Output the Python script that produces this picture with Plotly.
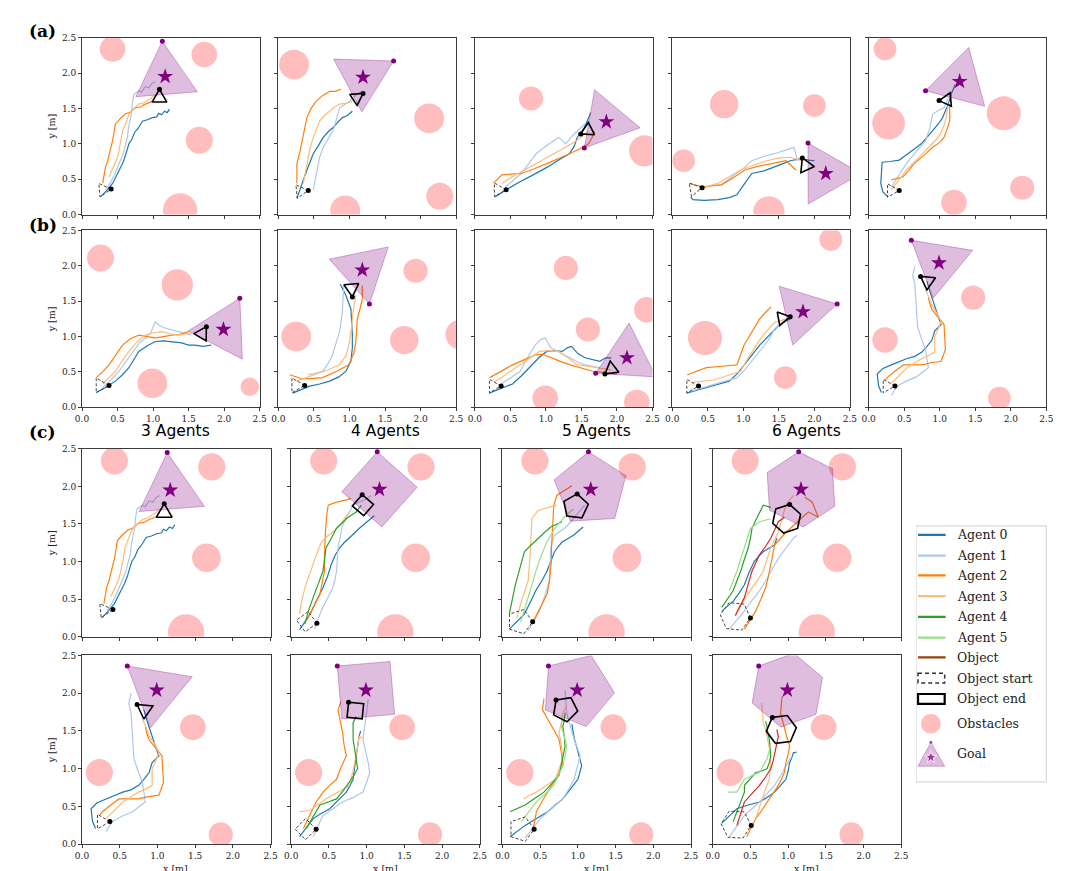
import math

import plotly.graph_objects as go

FIG_W, FIG_H = 1080, 871

AGENT_COLORS = ["#1f77b4", "#aec7e8", "#ff7f0e", "#ffbb78", "#2ca02c", "#98df8a", "#d62728"]
TICKS = [0.0, 0.5, 1.0, 1.5, 2.0, 2.5]
COLUMN_TITLES = ["3 Agents", "4 Agents", "5 Agents", "6 Agents"]
ROW_LABELS = ["(a)", "(b)", "(c)"]
LEGEND_LABELS = ["Agent 0", "Agent 1", "Agent 2", "Agent 3", "Agent 4", "Agent 5",
                 "Object", "Object start", "Object end", "Obstacles", "Goal"]

# obstacles: (x, y, r); goal / start / end: (centre x, centre y, marked vertex x, marked vertex y)

# ---- row (a) ----
a1_obstacles = [(0.43, 2.34, 0.18), (1.72, 2.26, 0.18), (1.65, 1.05, 0.19), (1.38, 0.06, 0.24)]
a1_goal = (1.17, 1.95, 1.13, 2.45)
a1_start = (0.30, 0.35, 0.41, 0.36)
a1_end = (1.09, 1.65, 1.09, 1.77)
a1_paths = [
    [(0.26, 0.25), (0.34, 0.33), (0.43, 0.44), (0.47, 0.52), (0.50, 0.58), (0.55, 0.66), (0.57, 0.72),
     (0.60, 0.80), (0.62, 0.88), (0.66, 1.00), (0.70, 1.06), (0.74, 1.16), (0.79, 1.22), (0.85, 1.32),
     (0.92, 1.34), (0.99, 1.37), (1.05, 1.38), (1.08, 1.43), (1.12, 1.41), (1.16, 1.46), (1.20, 1.44),
     (1.23, 1.49)],
    [(0.33, 0.35), (0.40, 0.45), (0.45, 0.55), (0.50, 0.66), (0.54, 0.77), (0.58, 0.86), (0.60, 0.95),
     (0.64, 1.09), (0.65, 1.20), (0.67, 1.30), (0.69, 1.38), (0.70, 1.46), (0.71, 1.58), (0.73, 1.70),
     (0.80, 1.75), (0.84, 1.73), (0.89, 1.81), (0.94, 1.79), (0.98, 1.85), (1.03, 1.88)],
    [(0.29, 0.44), (0.31, 0.55), (0.33, 0.67), (0.36, 0.75), (0.38, 0.85), (0.40, 0.92), (0.43, 1.04),
     (0.45, 1.15), (0.47, 1.28), (0.54, 1.36), (0.61, 1.42), (0.68, 1.45), (0.75, 1.51), (0.82, 1.52),
     (0.89, 1.56), (0.99, 1.60)],
    [(0.38, 0.53), (0.44, 0.66), (0.47, 0.72), (0.50, 0.81), (0.52, 0.90), (0.54, 1.00), (0.57, 1.18),
     (0.62, 1.30), (0.66, 1.42), (0.73, 1.50), (0.80, 1.56), (0.87, 1.58), (0.94, 1.63), (1.05, 1.70)],
]

a2_obstacles = [(0.22, 2.12, 0.21), (2.12, 1.36, 0.21), (2.27, 0.26, 0.19), (0.94, 0.06, 0.21)]
a2_goal = (1.19, 1.94, 1.62, 2.17)
a2_start = (0.31, 0.33, 0.42, 0.34)
a2_end = (1.10, 1.65, 1.19, 1.71)
a2_paths = [
    [(0.26, 0.23), (0.30, 0.36), (0.35, 0.49), (0.42, 0.68), (0.49, 0.86), (0.56, 0.97), (0.63, 1.09),
     (0.70, 1.17), (0.77, 1.23), (0.84, 1.31), (0.90, 1.37), (0.97, 1.40), (1.04, 1.46)],
    [(0.49, 0.35), (0.54, 0.58), (0.58, 0.81), (0.63, 0.95), (0.70, 1.08), (0.77, 1.19), (0.82, 1.36),
     (0.86, 1.51), (0.93, 1.55), (1.00, 1.60), (1.08, 1.68), (1.16, 1.74)],
    [(0.26, 0.44), (0.26, 0.58), (0.26, 0.72), (0.30, 0.88), (0.33, 1.04), (0.37, 1.20), (0.40, 1.37),
     (0.46, 1.50), (0.53, 1.60), (0.62, 1.68), (0.72, 1.74), (0.80, 1.74), (0.88, 1.77)],
    [(0.35, 0.44), (0.38, 0.60), (0.40, 0.76), (0.44, 0.92), (0.49, 1.09), (0.53, 1.20), (0.58, 1.32),
     (0.65, 1.40), (0.72, 1.46), (0.79, 1.52), (0.86, 1.56), (0.95, 1.57), (1.04, 1.60)],
]

a3_obstacles = [(0.79, 1.64, 0.17), (2.39, 0.90, 0.22)]
a3_goal = (1.85, 1.31, 1.54, 0.94)
a3_start = (0.33, 0.35, 0.44, 0.35)
a3_end = (1.59, 1.19, 1.49, 1.14)
a3_paths = [
    [(0.28, 0.25), (0.43, 0.34), (0.59, 0.44), (0.80, 0.55), (1.02, 0.67), (1.18, 0.77), (1.33, 0.86),
     (1.40, 0.97), (1.44, 1.09), (1.50, 1.17), (1.54, 1.23), (1.58, 1.32), (1.63, 1.44)],
    [(0.43, 0.39), (0.55, 0.50), (0.65, 0.58), (0.76, 0.72), (0.86, 0.86), (1.00, 0.97), (1.18, 1.09),
     (1.28, 1.00), (1.36, 1.10), (1.44, 1.18), (1.55, 1.28)],
    [(0.26, 0.44), (0.38, 0.56), (0.50, 0.57), (0.65, 0.58), (0.82, 0.64), (1.02, 0.72), (1.18, 0.79),
     (1.33, 0.86), (1.52, 0.95), (1.60, 1.00), (1.65, 1.09), (1.68, 1.18)],
    [(0.38, 0.44), (0.52, 0.53), (0.70, 0.63), (0.86, 0.72), (1.02, 0.81), (1.15, 0.88), (1.28, 0.95),
     (1.40, 1.02), (1.49, 1.09), (1.60, 1.18)],
]

a4_obstacles = [(0.73, 1.56, 0.20), (2.00, 1.54, 0.16), (0.16, 0.76, 0.16), (1.36, 0.04, 0.22)]
a4_goal = (2.16, 0.58, 1.91, 1.01)
a4_start = (0.31, 0.36, 0.42, 0.38)
a4_end = (1.88, 0.69, 1.83, 0.80)
a4_paths = [
    [(0.26, 0.25), (0.29, 0.21), (0.45, 0.20), (0.64, 0.21), (0.80, 0.24), (0.91, 0.28), (1.02, 0.44),
     (1.12, 0.58), (1.30, 0.62), (1.44, 0.67), (1.56, 0.72), (1.66, 0.76), (1.82, 0.79), (1.92, 0.77),
     (2.00, 0.76)],
    [(0.37, 0.35), (0.52, 0.40), (0.69, 0.42), (0.80, 0.50), (0.91, 0.58), (1.02, 0.67), (1.12, 0.76),
     (1.28, 0.82), (1.44, 0.86), (1.60, 0.92), (1.71, 0.95), (1.74, 0.85), (1.76, 0.76)],
    [(0.24, 0.44), (0.43, 0.39), (0.56, 0.41), (0.69, 0.42), (0.86, 0.52), (1.02, 0.63), (1.20, 0.68),
     (1.39, 0.72), (1.60, 0.76), (1.74, 0.63)],
    [(0.37, 0.35), (0.50, 0.40), (0.64, 0.44), (0.80, 0.54), (0.96, 0.63), (1.15, 0.70), (1.33, 0.76),
     (1.50, 0.80), (1.66, 0.81), (1.82, 0.76)],
]

a5_obstacles = [(0.23, 2.34, 0.16), (0.28, 1.29, 0.23), (1.90, 1.43, 0.24), (1.20, 0.17, 0.18),
                (2.16, 0.38, 0.17)]
a5_goal = (1.28, 1.88, 0.80, 1.75)
a5_start = (0.32, 0.34, 0.43, 0.34)
a5_end = (1.10, 1.62, 0.99, 1.61)
a5_paths = [
    [(0.27, 0.25), (0.20, 0.32), (0.17, 0.44), (0.18, 0.60), (0.19, 0.74), (0.30, 0.75), (0.43, 0.77),
     (0.58, 0.88), (0.74, 1.00), (0.82, 1.09), (0.90, 1.18), (0.98, 1.28), (1.04, 1.37), (1.08, 1.46),
     (1.12, 1.56), (1.16, 1.70), (1.22, 1.84)],
    [(0.32, 0.39), (0.42, 0.55), (0.53, 0.72), (0.66, 0.88), (0.80, 1.04), (0.86, 1.22), (0.90, 1.42),
     (0.98, 1.47), (1.06, 1.51), (1.12, 1.65)],
    [(0.32, 0.49), (0.48, 0.53), (0.56, 0.62), (0.64, 0.72), (0.78, 0.84), (0.90, 0.95), (1.00, 1.02),
     (1.06, 1.09), (1.10, 1.20), (1.14, 1.32), (1.14, 1.45), (1.14, 1.56)],
    [(0.32, 0.35), (0.42, 0.49), (0.53, 0.63), (0.70, 0.80), (0.85, 0.95), (0.94, 1.05), (1.01, 1.14),
     (1.06, 1.26), (1.09, 1.37), (1.12, 1.56)],
]

# ---- row (b) ----
b1_obstacles = [(0.26, 2.11, 0.19), (1.34, 1.73, 0.22), (0.99, 0.34, 0.21), (2.36, 0.29, 0.13)]
b1_goal = (1.99, 1.10, 2.22, 1.54)
b1_start = (0.26, 0.31, 0.38, 0.31)
b1_end = (1.69, 1.04, 1.75, 1.14)
b1_paths = [
    [(0.20, 0.21), (0.33, 0.28), (0.47, 0.37), (0.57, 0.46), (0.66, 0.56), (0.73, 0.68), (0.80, 0.79),
     (0.92, 0.87), (1.03, 0.93), (1.15, 0.94), (1.26, 0.93), (1.40, 0.91), (1.50, 0.88), (1.59, 0.88),
     (1.70, 0.86), (1.82, 0.88)],
    [(0.29, 0.28), (0.40, 0.38), (0.52, 0.51), (0.62, 0.65), (0.71, 0.79), (0.80, 0.90), (0.89, 0.98),
     (0.97, 1.06), (1.03, 1.21), (1.10, 1.15), (1.17, 1.12), (1.36, 1.07), (1.54, 1.02)],
    [(0.20, 0.42), (0.29, 0.50), (0.38, 0.60), (0.47, 0.74), (0.57, 0.88), (0.68, 0.97), (0.80, 1.02),
     (0.92, 1.00), (1.03, 0.98), (1.15, 1.00), (1.26, 1.02), (1.38, 1.03), (1.50, 1.07)],
    [(0.29, 0.33), (0.38, 0.42), (0.47, 0.51), (0.56, 0.65), (0.66, 0.79), (0.77, 0.92), (0.89, 1.02),
     (1.00, 1.05), (1.12, 1.07), (1.24, 1.04), (1.36, 1.02), (1.54, 1.05)],
]

b2_obstacles = [(0.25, 1.00, 0.21), (1.77, 0.95, 0.20), (1.93, 1.93, 0.17), (2.56, 1.03, 0.21)]
b2_goal = (1.18, 1.94, 1.28, 1.46)
b2_start = (0.25, 0.31, 0.37, 0.31)
b2_end = (1.03, 1.68, 1.04, 1.56)
b2_paths = [
    [(0.20, 0.20), (0.32, 0.25), (0.44, 0.30), (0.58, 0.33), (0.72, 0.37), (0.85, 0.43), (0.95, 0.51),
     (1.02, 0.65), (1.04, 0.84), (1.04, 1.02), (1.03, 1.20), (1.02, 1.39), (0.95, 1.58), (0.87, 1.74)],
    [(0.41, 0.46), (0.52, 0.48), (0.62, 0.51), (0.70, 0.62), (0.76, 0.74), (0.81, 0.90), (0.86, 1.07),
     (0.88, 1.20), (0.90, 1.35), (0.91, 1.55), (0.92, 1.72)],
    [(0.16, 0.46), (0.25, 0.43), (0.34, 0.40), (0.48, 0.41), (0.62, 0.42), (0.80, 0.50), (0.99, 0.60),
     (1.06, 0.76), (1.09, 0.93), (1.10, 1.10), (1.11, 1.25), (1.15, 1.40), (1.18, 1.53), (1.18, 1.72)],
    [(0.25, 0.37), (0.39, 0.42), (0.53, 0.46), (0.70, 0.53), (0.86, 0.60), (0.95, 0.73), (0.99, 0.88),
     (1.02, 1.06), (1.04, 1.25), (1.06, 1.42), (1.09, 1.58)],
]

b3_obstacles = [(1.28, 1.97, 0.17), (1.59, 1.10, 0.17), (2.42, 1.38, 0.18), (0.99, 0.13, 0.18),
                (2.28, 0.07, 0.18)]
b3_goal = (2.14, 0.70, 1.70, 0.48)
b3_start = (0.26, 0.30, 0.37, 0.30)
b3_end = (1.92, 0.54, 1.83, 0.47)
b3_paths = [
    [(0.20, 0.20), (0.36, 0.26), (0.53, 0.33), (0.66, 0.45), (0.80, 0.60), (0.90, 0.70), (1.01, 0.79),
     (1.12, 0.80), (1.23, 0.79), (1.30, 0.84), (1.36, 0.86), (1.45, 0.76), (1.55, 0.70), (1.66, 0.67),
     (1.76, 0.65), (1.84, 0.70), (1.92, 0.70)],
    [(0.37, 0.33), (0.50, 0.42), (0.64, 0.51), (0.74, 0.70), (0.85, 0.88), (0.93, 0.96), (0.99, 0.98),
     (1.07, 0.84), (1.20, 0.77), (1.34, 0.70), (1.45, 0.64), (1.55, 0.60), (1.66, 0.58), (1.76, 0.56)],
    [(0.21, 0.42), (0.37, 0.51), (0.53, 0.60), (0.69, 0.67), (0.85, 0.74), (0.96, 0.75), (1.07, 0.70),
     (1.20, 0.65), (1.34, 0.60), (1.50, 0.55), (1.66, 0.51), (1.83, 0.49), (2.00, 0.47)],
    [(0.27, 0.35), (0.43, 0.46), (0.59, 0.56), (0.75, 0.68), (0.91, 0.79), (1.05, 0.80), (1.18, 0.79),
     (1.31, 0.70), (1.44, 0.60), (1.58, 0.58), (1.71, 0.56), (1.92, 0.53)],
]

b4_obstacles = [(2.23, 2.37, 0.16), (0.46, 0.98, 0.24), (1.59, 0.42, 0.16)]
b4_goal = (1.84, 1.35, 2.32, 1.46)
b4_start = (0.26, 0.30, 0.37, 0.30)
b4_end = (1.55, 1.26, 1.66, 1.28)
b4_paths = [
    [(0.20, 0.20), (0.34, 0.24), (0.48, 0.28), (0.64, 0.32), (0.80, 0.37), (0.92, 0.48), (1.01, 0.60),
     (1.12, 0.74), (1.23, 0.88), (1.31, 0.96), (1.39, 1.04), (1.50, 1.16), (1.58, 1.21), (1.66, 1.25)],
    [(0.27, 0.23), (0.43, 0.28), (0.59, 0.33), (0.75, 0.38), (0.91, 0.42), (1.02, 0.53), (1.12, 0.65),
     (1.23, 0.79), (1.34, 0.93), (1.40, 1.03), (1.44, 1.11), (1.60, 1.25)],
    [(0.21, 0.46), (0.34, 0.51), (0.48, 0.56), (0.70, 0.58), (0.91, 0.60), (0.96, 0.74), (1.01, 0.88),
     (1.07, 0.98), (1.12, 1.07), (1.18, 1.16), (1.23, 1.25), (1.31, 1.34), (1.39, 1.42)],
    [(0.27, 0.35), (0.43, 0.37), (0.59, 0.39), (0.78, 0.45), (0.96, 0.51), (1.04, 0.65), (1.12, 0.79),
     (1.20, 0.91), (1.28, 1.02), (1.36, 1.11), (1.44, 1.20), (1.60, 1.25)],
]

b5_obstacles = [(0.23, 0.95, 0.18), (1.47, 1.55, 0.17), (1.84, 0.13, 0.16)]
b5_goal = (0.99, 2.04, 0.60, 2.36)
b5_start = (0.26, 0.30, 0.37, 0.30)
b5_end = (0.83, 1.78, 0.73, 1.85)
b5_paths = [
    [(0.18, 0.21), (0.14, 0.30), (0.12, 0.47), (0.20, 0.55), (0.32, 0.60), (0.43, 0.65), (0.54, 0.69),
     (0.65, 0.72), (0.75, 0.78), (0.82, 0.86), (0.89, 0.95), (0.93, 1.08), (1.02, 1.17), (0.98, 1.28),
     (0.95, 1.38), (0.92, 1.47), (0.89, 1.55), (0.86, 1.64), (0.84, 1.72), (0.82, 1.78)],
    [(0.32, 0.17), (0.36, 0.23), (0.40, 0.30), (0.53, 0.37), (0.67, 0.43), (0.76, 0.50), (0.84, 0.56),
     (0.82, 0.69), (0.80, 0.82), (0.75, 0.95), (0.72, 1.04), (0.69, 1.13), (0.68, 1.26), (0.67, 1.39),
     (0.66, 1.56), (0.65, 1.74), (0.62, 1.86), (0.65, 2.00)],
    [(0.23, 0.38), (0.27, 0.43), (0.38, 0.52), (0.49, 0.60), (0.62, 0.60), (0.75, 0.60), (0.88, 0.63),
     (1.02, 0.65), (1.08, 0.82), (1.07, 1.00), (1.06, 1.17), (0.98, 1.27), (0.89, 1.38), (0.86, 1.47),
     (0.84, 1.55)],
    [(0.32, 0.34), (0.43, 0.45), (0.54, 0.56), (0.65, 0.63), (0.75, 0.69), (0.84, 0.73), (0.93, 0.78),
     (0.93, 0.89), (0.93, 1.00), (0.98, 1.11), (1.02, 1.22), (0.96, 1.33), (0.89, 1.44), (0.85, 1.55),
     (0.80, 1.66)],
]

# ---- row (c), top: scenario of a1 with 4, 5, 6 agents ----
c_top_goal = (1.17, 1.96, 1.14, 2.46)

c4_top_start = (0.205, 0.20, 0.34, 0.18)
c4_top_end = (0.95, 1.75, 0.94, 1.89)
c4_top_paths = [
    [(0.11, 0.09), (0.18, 0.20), (0.25, 0.30), (0.33, 0.47), (0.42, 0.65), (0.48, 0.80), (0.53, 0.96),
     (0.58, 1.08), (0.64, 1.18), (0.70, 1.25), (0.77, 1.31), (0.84, 1.38), (0.90, 1.44), (0.97, 1.50),
     (1.04, 1.57), (1.10, 1.61)],
    [(0.31, 0.10), (0.36, 0.25), (0.42, 0.39), (0.49, 0.52), (0.55, 0.65), (0.58, 0.76), (0.60, 0.87),
     (0.61, 1.02), (0.62, 1.18), (0.65, 1.33), (0.68, 1.48), (0.75, 1.62), (0.82, 1.75), (0.90, 1.79),
     (0.99, 1.83), (1.06, 1.88)],
    [(0.20, 0.21), (0.29, 0.38), (0.38, 0.56), (0.41, 0.72), (0.44, 0.87), (0.44, 1.05), (0.44, 1.22),
     (0.45, 1.35), (0.46, 1.48), (0.47, 1.62), (0.49, 1.75), (0.60, 1.79), (0.73, 1.82), (0.79, 1.84)],
    [(0.11, 0.30), (0.14, 0.48), (0.18, 0.65), (0.23, 0.80), (0.29, 0.96), (0.34, 1.11), (0.40, 1.26),
     (0.47, 1.33), (0.55, 1.39), (0.62, 1.46), (0.68, 1.53), (0.77, 1.66)],
    [(0.18, 0.17), (0.23, 0.35), (0.29, 0.52), (0.36, 0.70), (0.42, 0.87), (0.44, 1.02), (0.46, 1.18),
     (0.53, 1.31), (0.60, 1.44), (0.66, 1.50), (0.73, 1.57), (0.80, 1.62), (0.86, 1.66), (0.93, 1.75)],
]

c5_top_start = (0.23, 0.20, 0.40, 0.20)
c5_top_end = (0.97, 1.73, 0.99, 1.90)
c5_top_paths = [
    [(0.09, 0.10), (0.19, 0.20), (0.29, 0.30), (0.37, 0.46), (0.44, 0.61), (0.52, 0.74), (0.59, 0.87),
     (0.64, 1.00), (0.69, 1.13), (0.74, 1.20), (0.79, 1.26), (0.86, 1.30), (0.94, 1.35), (1.00, 1.40),
     (1.07, 1.46)],
    [(0.34, 0.08), (0.41, 0.21), (0.49, 0.34), (0.56, 0.54), (0.62, 0.74), (0.63, 0.96), (0.64, 1.18),
     (0.66, 1.27), (0.69, 1.35), (0.76, 1.40), (0.82, 1.44), (0.88, 1.50), (0.94, 1.57), (1.01, 1.66),
     (1.09, 1.75)],
    [(0.39, 0.17), (0.49, 0.37), (0.59, 0.56), (0.62, 0.72), (0.64, 0.87), (0.65, 1.02), (0.65, 1.18),
     (0.66, 1.33), (0.67, 1.48), (0.68, 1.62), (0.68, 1.75), (0.72, 1.88), (0.84, 1.96), (0.92, 2.01)],
    [(0.19, 0.25), (0.26, 0.50), (0.34, 0.74), (0.36, 0.94), (0.37, 1.13), (0.38, 1.35), (0.39, 1.57),
     (0.47, 1.68), (0.62, 1.72), (0.72, 1.75)],
    [(0.09, 0.30), (0.13, 0.50), (0.17, 0.69), (0.23, 0.91), (0.29, 1.13), (0.38, 1.22), (0.47, 1.31),
     (0.56, 1.39), (0.64, 1.46), (0.79, 1.53)],
    [(0.24, 0.19), (0.29, 0.36), (0.34, 0.52), (0.40, 0.74), (0.47, 0.96), (0.52, 1.09), (0.57, 1.22),
     (0.63, 1.33), (0.69, 1.44), (0.76, 1.52), (0.84, 1.61), (0.94, 1.70)],
]

c6_top_start = (0.30, 0.27, 0.50, 0.25)
c6_top_end = (0.98, 1.57, 1.02, 1.76)
c6_top_paths = [
    [(0.12, 0.34), (0.20, 0.41), (0.27, 0.47), (0.35, 0.58), (0.42, 0.69), (0.48, 0.85), (0.55, 1.00),
     (0.61, 1.07), (0.67, 1.13), (0.75, 1.18), (0.82, 1.22), (0.85, 1.31)],
    [(0.22, 0.10), (0.32, 0.22), (0.42, 0.34), (0.52, 0.48), (0.62, 0.61), (0.70, 0.74), (0.77, 0.87),
     (0.82, 0.96), (0.87, 1.04), (0.92, 1.11), (0.97, 1.18), (1.02, 1.25), (1.07, 1.31), (1.12, 1.35)],
    [(0.42, 0.10), (0.50, 0.22), (0.57, 0.34), (0.64, 0.50), (0.70, 0.65), (0.74, 0.81), (0.77, 0.96),
     (0.80, 1.09), (0.82, 1.22), (0.90, 1.31), (0.97, 1.39), (1.05, 1.46), (1.12, 1.53), (1.20, 1.60),
     (1.27, 1.66), (1.40, 1.59), (1.32, 1.79), (1.22, 1.86)],
    [(0.32, 0.34), (0.42, 0.50), (0.52, 0.65), (0.60, 0.76), (0.67, 0.87), (0.72, 1.03), (0.77, 1.18),
     (0.82, 1.29), (0.87, 1.39), (0.92, 1.57), (0.97, 1.75), (1.07, 1.88)],
    [(0.12, 0.39), (0.20, 0.50), (0.27, 0.61), (0.32, 0.74), (0.37, 0.87), (0.42, 1.03), (0.47, 1.18),
     (0.50, 1.31), (0.52, 1.44), (0.57, 1.55), (0.62, 1.66), (0.67, 1.75), (0.77, 1.72)],
    [(0.22, 0.61), (0.27, 0.74), (0.32, 0.87), (0.37, 1.03), (0.42, 1.18), (0.46, 1.31), (0.50, 1.44),
     (0.62, 1.53), (0.77, 1.57)],
    [(0.30, 0.28), (0.36, 0.40), (0.42, 0.52), (0.47, 0.70), (0.52, 0.87), (0.57, 0.98), (0.62, 1.09),
     (0.70, 1.20), (0.77, 1.31), (0.82, 1.42), (0.87, 1.53), (0.95, 1.59)],
]

# ---- row (c), bottom: scenario of b5 with 4, 5, 6 agents ----
c_bottom_goal = (0.99, 2.04, 0.61, 2.36)

c4_bottom_start = (0.19, 0.20, 0.33, 0.20)
c4_bottom_end = (0.85, 1.77, 0.76, 1.88)
c4_bottom_paths = [
    [(0.11, 0.10), (0.20, 0.22), (0.29, 0.34), (0.40, 0.41), (0.51, 0.47), (0.62, 0.58), (0.73, 0.69),
     (0.78, 0.78), (0.82, 0.86), (0.84, 1.02), (0.86, 1.17), (0.88, 1.30), (0.90, 1.43), (0.92, 1.50)],
    [(0.29, 0.10), (0.36, 0.24), (0.42, 0.38), (0.55, 0.47), (0.68, 0.56), (0.82, 0.62), (0.95, 0.69),
     (1.00, 0.82), (1.04, 0.95), (1.02, 1.08), (0.99, 1.21), (0.97, 1.30), (0.95, 1.39), (0.98, 1.60),
     (1.00, 1.80), (1.02, 1.92)],
    [(0.16, 0.21), (0.25, 0.39), (0.33, 0.56), (0.38, 0.63), (0.42, 0.69), (0.51, 0.78), (0.60, 0.86),
     (0.66, 1.02), (0.73, 1.17), (0.70, 1.32), (0.68, 1.48), (0.65, 1.63), (0.62, 1.78), (0.66, 1.89)],
    [(0.11, 0.43), (0.18, 0.44), (0.25, 0.45), (0.35, 0.52), (0.46, 0.60), (0.62, 0.69), (0.77, 0.78),
     (0.82, 0.97), (0.86, 1.17), (0.88, 1.30), (0.90, 1.43), (0.95, 1.40)],
    [(0.20, 0.21), (0.29, 0.37), (0.38, 0.52), (0.49, 0.56), (0.60, 0.60), (0.69, 0.71), (0.77, 0.82),
     (0.83, 0.91), (0.88, 1.00), (0.85, 1.20), (0.82, 1.39), (0.82, 1.50), (0.82, 1.61), (0.86, 1.69)],
]

c5_bottom_start = (0.25, 0.20, 0.42, 0.20)
c5_bottom_end = (0.83, 1.79, 0.71, 1.91)
c5_bottom_paths = [
    [(0.10, 0.10), (0.20, 0.18), (0.30, 0.25), (0.45, 0.34), (0.60, 0.43), (0.70, 0.52), (0.80, 0.60),
     (0.90, 0.73), (1.00, 0.86), (1.05, 1.04), (1.02, 1.17), (0.98, 1.30), (0.95, 1.41), (0.93, 1.52),
     (0.92, 1.59)],
    [(0.30, 0.08), (0.40, 0.21), (0.50, 0.34), (0.65, 0.47), (0.80, 0.60), (0.88, 0.73), (0.95, 0.86),
     (0.99, 1.02), (1.03, 1.17), (0.99, 1.28), (0.95, 1.39), (0.90, 1.56), (0.85, 1.74), (0.84, 1.90),
     (0.83, 2.04)],
    [(0.40, 0.17), (0.42, 0.30), (0.45, 0.43), (0.52, 0.56), (0.60, 0.69), (0.70, 0.86), (0.80, 1.04),
     (0.78, 1.22), (0.75, 1.39), (0.69, 1.50), (0.63, 1.61), (0.58, 1.70), (0.53, 1.78), (0.55, 1.93)],
    [(0.28, 0.60), (0.36, 0.65), (0.45, 0.69), (0.58, 0.78), (0.70, 0.86), (0.75, 1.00), (0.80, 1.13),
     (0.78, 1.30), (0.75, 1.48), (0.78, 1.61), (0.80, 1.74), (0.85, 1.83)],
    [(0.10, 0.43), (0.20, 0.48), (0.30, 0.52), (0.43, 0.61), (0.55, 0.69), (0.65, 0.80), (0.75, 0.91),
     (0.79, 1.10), (0.83, 1.30), (0.82, 1.43), (0.80, 1.56), (0.82, 1.65), (0.83, 1.74)],
    [(0.25, 0.30), (0.35, 0.43), (0.45, 0.56), (0.57, 0.67), (0.68, 0.78), (0.74, 0.91), (0.80, 1.04),
     (0.83, 1.17), (0.85, 1.30), (0.82, 1.43), (0.78, 1.56), (0.80, 1.69)],
]

c6_bottom_start = (0.31, 0.26, 0.51, 0.25)
c6_bottom_end = (0.91, 1.52, 0.79, 1.68)
c6_bottom_paths = [
    [(0.12, 0.28), (0.22, 0.38), (0.32, 0.47), (0.47, 0.52), (0.62, 0.56), (0.72, 0.62), (0.82, 0.69),
     (0.90, 0.78), (0.97, 0.86), (1.00, 0.97), (1.02, 1.08), (1.05, 1.15), (1.07, 1.21), (1.11, 1.22)],
    [(0.22, 0.10), (0.32, 0.24), (0.42, 0.38), (0.52, 0.47), (0.62, 0.56), (0.72, 0.67), (0.82, 0.78),
     (0.90, 0.91), (0.97, 1.04), (1.05, 1.17)],
    [(0.45, 0.10), (0.51, 0.22), (0.57, 0.34), (0.65, 0.45), (0.72, 0.56), (0.80, 0.67), (0.87, 0.78),
     (0.95, 0.95), (0.97, 1.08), (1.00, 1.19), (1.02, 1.30), (0.98, 1.43), (0.95, 1.56), (0.92, 1.65),
     (0.90, 1.74), (0.91, 1.85), (0.92, 1.96)],
    [(0.57, 0.34), (0.62, 0.50), (0.67, 0.65), (0.71, 0.76), (0.75, 0.86), (0.76, 1.00), (0.77, 1.13),
     (0.75, 1.28), (0.72, 1.43), (0.70, 1.52), (0.67, 1.61), (0.66, 1.74), (0.65, 1.87)],
    [(0.27, 0.30), (0.35, 0.50), (0.42, 0.69), (0.42, 0.78), (0.50, 0.87), (0.57, 0.95), (0.65, 0.97),
     (0.72, 1.00), (0.75, 1.08), (0.77, 1.17), (0.76, 1.28), (0.75, 1.39), (0.73, 1.48), (0.72, 1.56),
     (0.70, 1.63)],
    [(0.20, 0.69), (0.26, 0.69), (0.32, 0.69), (0.37, 0.78), (0.42, 0.86), (0.52, 0.91), (0.62, 0.95),
     (0.67, 1.04), (0.72, 1.13), (0.75, 1.24), (0.77, 1.34)],
    [(0.32, 0.25), (0.37, 0.40), (0.42, 0.56), (0.52, 0.67), (0.62, 0.78), (0.70, 0.89), (0.77, 1.00),
     (0.80, 1.10), (0.82, 1.21), (0.85, 1.32), (0.87, 1.43), (0.85, 1.52)],
]

# (obstacles, goal, start, end, paths, sides of the object/goal polygon)
PANELS = [
    (a1_obstacles, a1_goal, a1_start, a1_end, a1_paths, 3),
    (a2_obstacles, a2_goal, a2_start, a2_end, a2_paths, 3),
    (a3_obstacles, a3_goal, a3_start, a3_end, a3_paths, 3),
    (a4_obstacles, a4_goal, a4_start, a4_end, a4_paths, 3),
    (a5_obstacles, a5_goal, a5_start, a5_end, a5_paths, 3),
    (b1_obstacles, b1_goal, b1_start, b1_end, b1_paths, 3),
    (b2_obstacles, b2_goal, b2_start, b2_end, b2_paths, 3),
    (b3_obstacles, b3_goal, b3_start, b3_end, b3_paths, 3),
    (b4_obstacles, b4_goal, b4_start, b4_end, b4_paths, 3),
    (b5_obstacles, b5_goal, b5_start, b5_end, b5_paths, 3),
    (a1_obstacles, a1_goal, a1_start, a1_end, a1_paths, 3),
    (a1_obstacles, c_top_goal, c4_top_start, c4_top_end, c4_top_paths, 4),
    (a1_obstacles, c_top_goal, c5_top_start, c5_top_end, c5_top_paths, 5),
    (a1_obstacles, c_top_goal, c6_top_start, c6_top_end, c6_top_paths, 6),
    (b5_obstacles, b5_goal, b5_start, b5_end, b5_paths, 3),
    (b5_obstacles, c_bottom_goal, c4_bottom_start, c4_bottom_end, c4_bottom_paths, 4),
    (b5_obstacles, c_bottom_goal, c5_bottom_start, c5_bottom_end, c5_bottom_paths, 5),
    (b5_obstacles, c_bottom_goal, c6_bottom_start, c6_bottom_end, c6_bottom_paths, 6),
]

# panel placement in pixels: left, top, width, height, x labels, y labels
ab_lefts = [76, 275, 474, 674, 873]
c_lefts = [76, 288, 502, 715]
GEOMETRY = (
    [(l, 33, 180, 179, False, i == 0) for i, l in enumerate(ab_lefts)]
    + [(l, 228, 180, 179, True, i == 0) for i, l in enumerate(ab_lefts)]
    + [(l, 449, 191, 190, False, i == 0) for i, l in enumerate(c_lefts)]
    + [(l, 658, 191, 191, True, i == 0) for i, l in enumerate(c_lefts)]
)

SERIF = "DejaVu Serif"
AXIS_COLOR = "#3a3a3a"


def regular_polygon(spec, n):
    cx, cy, vx, vy = spec
    r = math.hypot(vx - cx, vy - cy)
    a0 = math.atan2(vy - cy, vx - cx)
    xs = [cx + r * math.cos(a0 + 2 * math.pi * k / n) for k in range(n + 1)]
    ys = [cy + r * math.sin(a0 + 2 * math.pi * k / n) for k in range(n + 1)]
    return xs, ys


fig = go.Figure()
shapes = []
annotations = []
axes = {}

for i, (panel, geo) in enumerate(zip(PANELS, GEOMETRY), start=1):
    obstacles, goal, start, end, paths, sides = panel
    left, top, w, h, show_x, show_y = geo
    sfx = "" if i == 1 else str(i)
    xref, yref = "x" + sfx, "y" + sfx

    common = dict(
        range=[0, 2.5], tickvals=TICKS, ticktext=[f"{t:.1f}" for t in TICKS],
        showline=True, mirror=True, linecolor=AXIS_COLOR, linewidth=1,
        ticks="outside", ticklen=3, tickcolor=AXIS_COLOR, showgrid=False, zeroline=False,
        tickfont=dict(family=SERIF, size=9, color="#222"), fixedrange=True,
    )
    axes["xaxis" + sfx] = dict(common, domain=[left / FIG_W, (left + w) / FIG_W], anchor=yref,
                               showticklabels=show_x)
    yax = dict(common, domain=[1 - (top + h) / FIG_H, 1 - top / FIG_H], anchor=xref,
               showticklabels=show_y)
    if show_y:
        yax["title"] = dict(text="y [m]", font=dict(family=SERIF, size=9.5, color="#222"), standoff=4)
    axes["yaxis" + sfx] = yax

    for ox, oy, r in obstacles:
        shapes.append(dict(type="circle", xref=xref, yref=yref, x0=ox - r, x1=ox + r, y0=oy - r, y1=oy + r,
                           fillcolor="rgba(255,0,0,0.26)", line=dict(width=0), layer="below"))

    for k, path in enumerate(paths):
        fig.add_trace(go.Scatter(
            x=[p[0] for p in path], y=[p[1] for p in path], mode="lines",
            line=dict(color=AGENT_COLORS[k], width=1.2), xaxis=xref, yaxis=yref,
            showlegend=False, hoverinfo="skip"))

    gx, gy = regular_polygon(goal, sides)
    fig.add_trace(go.Scatter(x=gx, y=gy, mode="lines", fill="toself",
                             fillcolor="rgba(128,0,128,0.26)", line=dict(color="rgba(128,0,128,0.3)", width=1),
                             xaxis=xref, yaxis=yref, showlegend=False, hoverinfo="skip"))
    fig.add_trace(go.Scatter(x=[goal[0]], y=[goal[1]], mode="markers",
                             marker=dict(symbol="star", size=12, color="purple"),
                             xaxis=xref, yaxis=yref, showlegend=False, hoverinfo="skip"))
    fig.add_trace(go.Scatter(x=[goal[2]], y=[goal[3]], mode="markers",
                             marker=dict(size=5, color="purple"), cliponaxis=True,
                             xaxis=xref, yaxis=yref, showlegend=False, hoverinfo="skip"))

    sx, sy = regular_polygon(start, sides)
    fig.add_trace(go.Scatter(x=sx, y=sy, mode="lines", line=dict(color="#444", width=1, dash="3px,2px"),
                             xaxis=xref, yaxis=yref, showlegend=False, hoverinfo="skip"))
    ex, ey = regular_polygon(end, sides)
    fig.add_trace(go.Scatter(x=ex, y=ey, mode="lines", line=dict(color="black", width=1.6),
                             xaxis=xref, yaxis=yref, showlegend=False, hoverinfo="skip"))
    fig.add_trace(go.Scatter(x=[start[2], end[2]], y=[start[3], end[3]], mode="markers",
                             marker=dict(size=5, color="black"),
                             xaxis=xref, yaxis=yref, showlegend=False, hoverinfo="skip"))

# row labels and column titles
for label, ypx in zip(ROW_LABELS, [26, 223, 432]):
    annotations.append(dict(text=f"<b>{label}</b>", x=20 / FIG_W, y=1 - ypx / FIG_H, xref="paper", yref="paper",
                            showarrow=False, xanchor="left", yanchor="middle",
                            font=dict(family=SERIF, size=17, color="black")))
for title, left in zip(COLUMN_TITLES, c_lefts):
    cx = (left + 95) / FIG_W
    annotations.append(dict(text=title, x=cx, y=1 - 431 / FIG_H, xref="paper", yref="paper",
                            showarrow=False, xanchor="center", yanchor="middle",
                            font=dict(family="DejaVu Sans", size=15.5, color="black")))
    # the x-axis titles sit on the lower page edge and are clipped there, as in the original figure
    annotations.append(dict(text="x [m]", x=cx, y=1 - 866 / FIG_H, xref="paper", yref="paper",
                            showarrow=False, xanchor="center", yanchor="top",
                            font=dict(family=SERIF, size=9.5, color="#222")))

# legend drawn on a hidden axis measured in pixels
LX = "x19"
LY = "y19"
axes["xaxis19"] = dict(domain=[921 / FIG_W, 1056 / FIG_W], range=[921, 1056], visible=False,
                       anchor=LY, fixedrange=True)
axes["yaxis19"] = dict(domain=[1 - 787 / FIG_H, 1 - 526 / FIG_H], range=[787, 526], visible=False,
                       anchor=LX, fixedrange=True)
shapes.append(dict(type="rect", xref=LX, yref=LY, x0=921, x1=1053, y0=527, y1=786,
                   line=dict(color="#d0d0d0", width=1), fillcolor="white", layer="below"))
legend_rows = [536, 557, 577, 598, 619, 640, 660, 681, 702, 727, 757]
line_colors = AGENT_COLORS[:6] + ["#9a3f0c"]
for ypx, color in zip(legend_rows[:7], line_colors):
    fig.add_trace(go.Scatter(x=[923, 951], y=[ypx, ypx], mode="lines", line=dict(color=color, width=2.4),
                             xaxis=LX, yaxis=LY, showlegend=False, hoverinfo="skip"))
shapes.append(dict(type="rect", xref=LX, yref=LY, x0=923, x1=950, y0=676, y1=686,
                   line=dict(color="#333", width=1.5, dash="4px,3px")))
shapes.append(dict(type="rect", xref=LX, yref=LY, x0=923, x1=950, y0=697, y1=707,
                   line=dict(color="black", width=2.2)))
shapes.append(dict(type="circle", xref=LX, yref=LY, x0=926, x1=946, y0=717, y1=737,
                   fillcolor="rgba(255,0,0,0.26)", line=dict(width=0)))
fig.add_trace(go.Scatter(x=[936, 923, 950, 936], y=[746, 770, 770, 746], mode="lines", fill="toself",
                         fillcolor="rgba(128,0,128,0.26)", line=dict(color="rgba(128,0,128,0.3)", width=1),
                         xaxis=LX, yaxis=LY, showlegend=False, hoverinfo="skip"))
fig.add_trace(go.Scatter(x=[936, 936], y=[746, 761], mode="markers",
                         marker=dict(symbol=["circle", "star"], size=[4, 9], color="purple"),
                         xaxis=LX, yaxis=LY, showlegend=False, hoverinfo="skip"))
for ypx, label in zip(legend_rows, LEGEND_LABELS):
    annotations.append(dict(text=label, x=960, y=ypx, xref=LX, yref=LY, showarrow=False,
                            xanchor="left", yanchor="middle",
                            font=dict(family=SERIF, size=12.5, color="#222")))

fig.update_layout(
    width=FIG_W, height=FIG_H, autosize=False,
    margin=dict(l=0, r=0, t=0, b=0),
    paper_bgcolor="white", plot_bgcolor="white",
    shapes=shapes, annotations=annotations,
    **axes,
)

# the page body has a default 8px margin; drop it so the figure fills the window exactly
fig.write_html("out.html", config={"displayModeBar": False},
               post_script="document.body.style.margin = '0px';")
